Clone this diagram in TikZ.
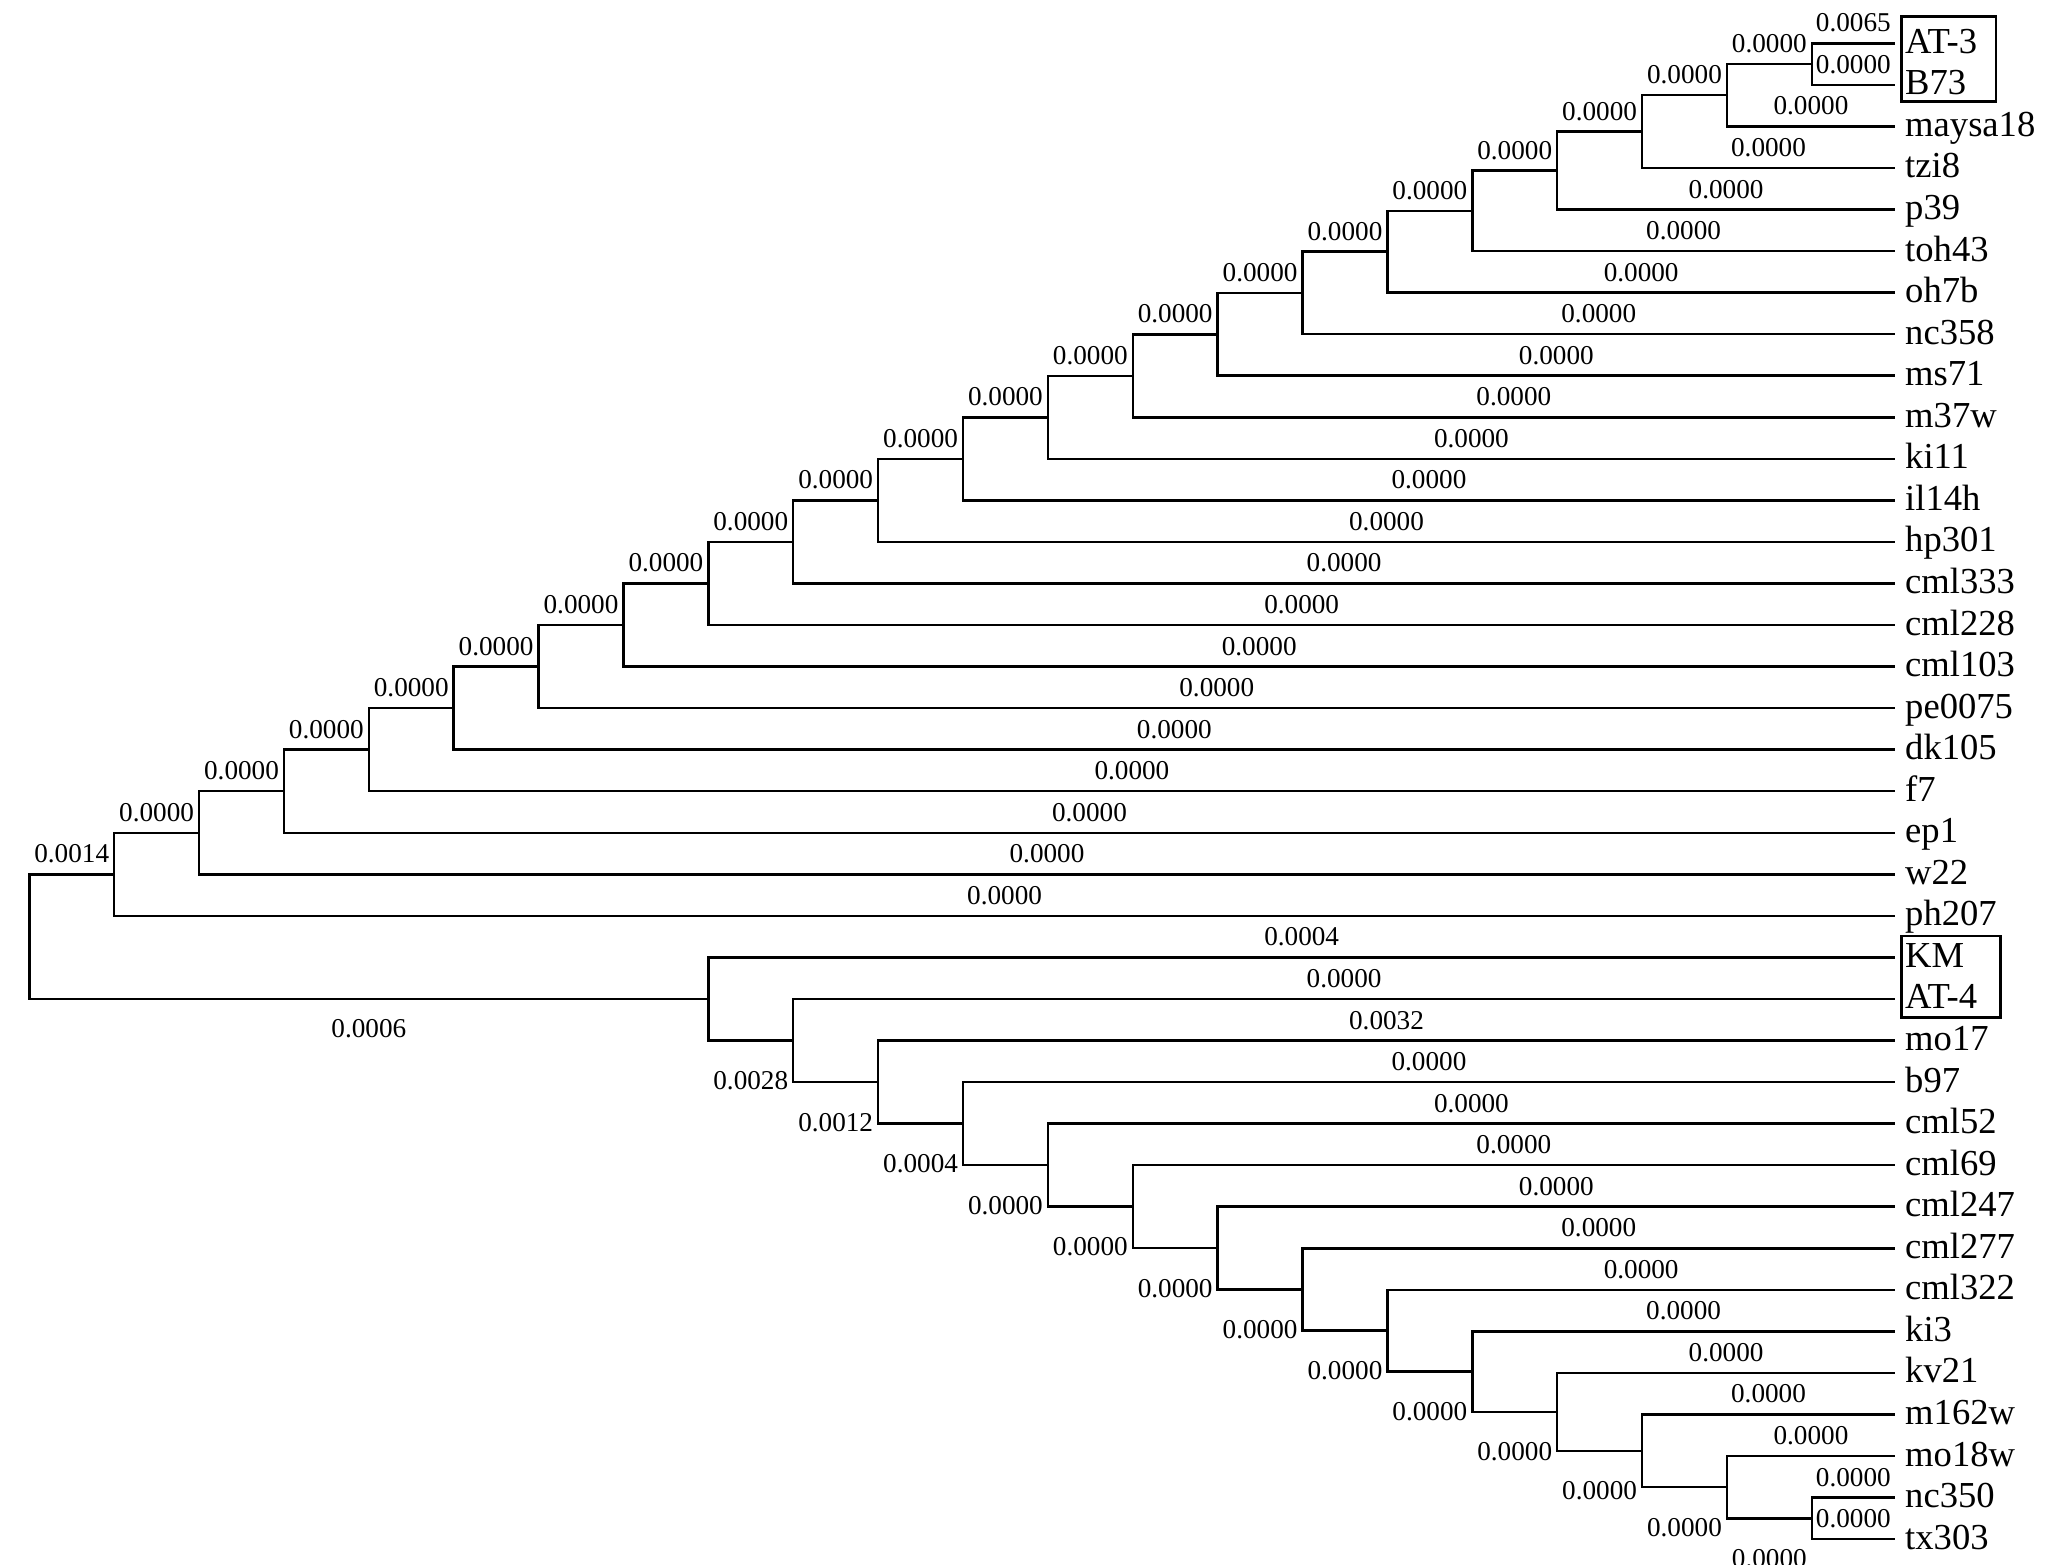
\documentclass[tikz,border=0pt]{standalone}
\usepackage{fontspec}
\setmainfont{Liberation Serif}

\tikzset{every picture/.style={line width=1.25pt}}
\tikzset{
  leaf/.style={anchor=west, inner xsep=4.5pt, inner ysep=0pt, text height=12pt, text depth=2pt, font=\fontsize{18.3pt}{20pt}\selectfont},
  branch/.style={line width=1.25pt, line join=miter},
  abv/.style={pos=0.75, anchor=base, inner sep=0pt, yshift=5.75pt, font=\fontsize{13.6pt}{15pt}\selectfont},
  blw/.style={pos=0.75, anchor=base, inner sep=0pt, yshift=-24.5pt, font=\fontsize{13.6pt}{15pt}\selectfont},
  tagbox/.style={line width=1.25pt}
}

\begin{document}
\begin{tikzpicture}[x=42.44pt,y=-20.775pt]
\useasboundingbox (-0.3452,-1.0421) rectangle (24.0069,36.623);

%Leaf Nodes
\node[leaf] (AT3) at (21.98,0) {AT-3};
\node[leaf] (B73) at (21.98,1) {B73};
\node[leaf] (maysa18) at (21.98,2) {maysa18};
\node[leaf] (tzi8) at (21.98,3) {tzi8};
\node[leaf] (p39) at (21.98,4) {p39};
\node[leaf] (toh43) at (21.98,5) {toh43};
\node[leaf] (oh7b) at (21.98,6) {oh7b};
\node[leaf] (nc358) at (21.98,7) {nc358};
\node[leaf] (ms71) at (21.98,8) {ms71};
\node[leaf] (m37w) at (21.98,9) {m37w};
\node[leaf] (ki11) at (21.98,10) {ki11};
\node[leaf] (il14h) at (21.98,11) {il14h};
\node[leaf] (hp301) at (21.98,12) {hp301};
\node[leaf] (cml333) at (21.98,13) {cml333};
\node[leaf] (cml228) at (21.98,14) {cml228};
\node[leaf] (cml103) at (21.98,15) {cml103};
\node[leaf] (pe0075) at (21.98,16) {pe0075};
\node[leaf] (dk105) at (21.98,17) {dk105};
\node[leaf] (f7) at (21.98,18) {f7};
\node[leaf] (ep1) at (21.98,19) {ep1};
\node[leaf] (w22) at (21.98,20) {w22};
\node[leaf] (ph207) at (21.98,21) {ph207};
\node[leaf] (KM) at (21.98,22) {KM};
\node[leaf] (AT4) at (21.98,23) {AT-4};
\node[leaf] (mo17) at (21.98,24) {mo17};
\node[leaf] (b97) at (21.98,25) {b97};
\node[leaf] (cml52) at (21.98,26) {cml52};
\node[leaf] (cml69) at (21.98,27) {cml69};
\node[leaf] (cml247) at (21.98,28) {cml247};
\node[leaf] (cml277) at (21.98,29) {cml277};
\node[leaf] (cml322) at (21.98,30) {cml322};
\node[leaf] (ki3) at (21.98,31) {ki3};
\node[leaf] (kv21) at (21.98,32) {kv21};
\node[leaf] (m162w) at (21.98,33) {m162w};
\node[leaf] (mo18w) at (21.98,34) {mo18w};
\node[leaf] (nc350) at (21.98,35) {nc350};
\node[leaf] (tx303) at (21.98,36) {tx303};

%Inner Nodes: upper clade
\coordinate (u21) at (21,0.5);
\coordinate (u20) at (20,1.25);
\coordinate (u19) at (19,2.125);
\coordinate (u18) at (18,3.0625);
\coordinate (u17) at (17,4.0313);
\coordinate (u16) at (16,5.0156);
\coordinate (u15) at (15,6.0078);
\coordinate (u14) at (14,7.0039);
\coordinate (u13) at (13,8.002);
\coordinate (u12) at (12,9.001);
\coordinate (u11) at (11,10.0005);
\coordinate (u10) at (10,11);
\coordinate (u9) at (9,12);
\coordinate (u8) at (8,13);
\coordinate (u7) at (7,14);
\coordinate (u6) at (6,15);
\coordinate (u5) at (5,16);
\coordinate (u4) at (4,17);
\coordinate (u3) at (3,18);
\coordinate (u2) at (2,19);
\coordinate (u1) at (1,20);
%Inner Nodes: lower clade
\coordinate (d8) at (8,23);
\coordinate (d9) at (9,24);
\coordinate (d10) at (10,25);
\coordinate (d11) at (11,25.9995);
\coordinate (d12) at (12,26.999);
\coordinate (d13) at (13,27.998);
\coordinate (d14) at (14,28.9961);
\coordinate (d15) at (15,29.9922);
\coordinate (d16) at (16,30.9844);
\coordinate (d17) at (17,31.9688);
\coordinate (d18) at (18,32.9375);
\coordinate (d19) at (19,33.875);
\coordinate (d20) at (20,34.75);
\coordinate (d21) at (21,35.5);
%Root
\coordinate (root) at (0,21.5);

%Branches: root
\draw[branch] (root) |- (u1) node[abv] {0.0014};
\draw[branch] (root) |- (d8) node[blw,yshift=5.15pt] {0.0006};

%Branches: upper clade
\draw[branch] (u21) |- (AT3) node[abv] {0.0065};
\draw[branch] (u21) |- (B73) node[abv] {0.0000};
\draw[branch] (u20) |- (u21) node[abv] {0.0000};
\draw[branch] (u20) |- (maysa18) node[abv] {0.0000};
\draw[branch] (u19) |- (u20) node[abv] {0.0000};
\draw[branch] (u19) |- (tzi8) node[abv] {0.0000};
\draw[branch] (u18) |- (u19) node[abv] {0.0000};
\draw[branch] (u18) |- (p39) node[abv] {0.0000};
\draw[branch] (u17) |- (u18) node[abv] {0.0000};
\draw[branch] (u17) |- (toh43) node[abv] {0.0000};
\draw[branch] (u16) |- (u17) node[abv] {0.0000};
\draw[branch] (u16) |- (oh7b) node[abv] {0.0000};
\draw[branch] (u15) |- (u16) node[abv] {0.0000};
\draw[branch] (u15) |- (nc358) node[abv] {0.0000};
\draw[branch] (u14) |- (u15) node[abv] {0.0000};
\draw[branch] (u14) |- (ms71) node[abv] {0.0000};
\draw[branch] (u13) |- (u14) node[abv] {0.0000};
\draw[branch] (u13) |- (m37w) node[abv] {0.0000};
\draw[branch] (u12) |- (u13) node[abv] {0.0000};
\draw[branch] (u12) |- (ki11) node[abv] {0.0000};
\draw[branch] (u11) |- (u12) node[abv] {0.0000};
\draw[branch] (u11) |- (il14h) node[abv] {0.0000};
\draw[branch] (u10) |- (u11) node[abv] {0.0000};
\draw[branch] (u10) |- (hp301) node[abv] {0.0000};
\draw[branch] (u9) |- (u10) node[abv] {0.0000};
\draw[branch] (u9) |- (cml333) node[abv] {0.0000};
\draw[branch] (u8) |- (u9) node[abv] {0.0000};
\draw[branch] (u8) |- (cml228) node[abv] {0.0000};
\draw[branch] (u7) |- (u8) node[abv] {0.0000};
\draw[branch] (u7) |- (cml103) node[abv] {0.0000};
\draw[branch] (u6) |- (u7) node[abv] {0.0000};
\draw[branch] (u6) |- (pe0075) node[abv] {0.0000};
\draw[branch] (u5) |- (u6) node[abv] {0.0000};
\draw[branch] (u5) |- (dk105) node[abv] {0.0000};
\draw[branch] (u4) |- (u5) node[abv] {0.0000};
\draw[branch] (u4) |- (f7) node[abv] {0.0000};
\draw[branch] (u3) |- (u4) node[abv] {0.0000};
\draw[branch] (u3) |- (ep1) node[abv] {0.0000};
\draw[branch] (u2) |- (u3) node[abv] {0.0000};
\draw[branch] (u2) |- (w22) node[abv] {0.0000};
\draw[branch] (u1) |- (u2) node[abv] {0.0000};
\draw[branch] (u1) |- (ph207) node[abv] {0.0000};

%Branches: lower clade
\draw[branch] (d8) |- (KM) node[abv] {0.0004};
\draw[branch] (d8) |- (d9) node[blw] {0.0028};
\draw[branch] (d9) |- (AT4) node[abv] {0.0000};
\draw[branch] (d9) |- (d10) node[blw] {0.0012};
\draw[branch] (d10) |- (mo17) node[abv] {0.0032};
\draw[branch] (d10) |- (d11) node[blw] {0.0004};
\draw[branch] (d11) |- (b97) node[abv] {0.0000};
\draw[branch] (d11) |- (d12) node[blw] {0.0000};
\draw[branch] (d12) |- (cml52) node[abv] {0.0000};
\draw[branch] (d12) |- (d13) node[blw] {0.0000};
\draw[branch] (d13) |- (cml69) node[abv] {0.0000};
\draw[branch] (d13) |- (d14) node[blw] {0.0000};
\draw[branch] (d14) |- (cml247) node[abv] {0.0000};
\draw[branch] (d14) |- (d15) node[blw] {0.0000};
\draw[branch] (d15) |- (cml277) node[abv] {0.0000};
\draw[branch] (d15) |- (d16) node[blw] {0.0000};
\draw[branch] (d16) |- (cml322) node[abv] {0.0000};
\draw[branch] (d16) |- (d17) node[blw] {0.0000};
\draw[branch] (d17) |- (ki3) node[abv] {0.0000};
\draw[branch] (d17) |- (d18) node[blw] {0.0000};
\draw[branch] (d18) |- (kv21) node[abv] {0.0000};
\draw[branch] (d18) |- (d19) node[blw] {0.0000};
\draw[branch] (d19) |- (m162w) node[abv] {0.0000};
\draw[branch] (d19) |- (d20) node[blw] {0.0000};
\draw[branch] (d20) |- (mo18w) node[abv] {0.0000};
\draw[branch] (d20) |- (d21) node[blw] {0.0000};
\draw[branch] (d21) |- (nc350) node[abv] {0.0000};
\draw[branch] (d21) |- (tx303) node[abv] {0.0000};

%Shape: Rectangle
\draw[tagbox] (22.059,-0.640) rectangle (23.171,1.406);
%Shape: Rectangle
\draw[tagbox] (22.059,21.485) rectangle (23.226,23.442);

\end{tikzpicture}
\end{document}
